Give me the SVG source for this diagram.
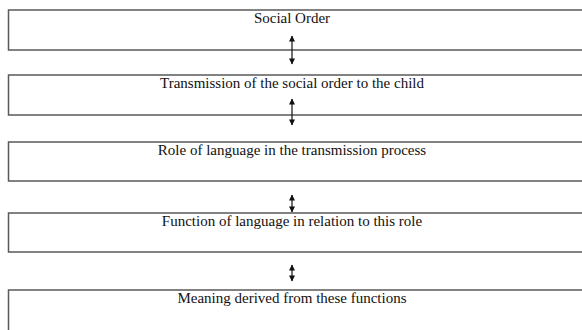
<svg xmlns="http://www.w3.org/2000/svg" width="582" height="330" viewBox="0 0 582 330">
<style>
.box{fill:#fff;stroke:#5a5a5a;stroke-width:1.5}
.lbl{font-family:"Liberation Serif","Times New Roman",serif;font-size:15px;fill:#111;text-anchor:middle}
.arr{stroke:#111;stroke-width:1.2;fill:none;marker-start:url(#ah);marker-end:url(#ah)}
</style>
<defs>
<marker id="ah" viewBox="0 0 10 10" refX="9" refY="5" markerWidth="7" markerHeight="6" orient="auto-start-reverse" markerUnits="userSpaceOnUse">
<path d="M0,0 L10,5 L0,10 z" fill="#111"/>
</marker>
</defs>
<rect width="582" height="330" fill="#fff"/>
<g id="n1"><rect class="box" x="8.5" y="10" width="590" height="40"/><text class="lbl" x="292" y="23">Social Order</text></g>
<g id="n2"><rect class="box" x="8.5" y="75" width="590" height="40"/><text class="lbl" x="292" y="88">Transmission of the social order to the child</text></g>
<g id="n3"><rect class="box" x="8.5" y="142" width="590" height="39"/><text class="lbl" x="292" y="155">Role of language in the transmission process</text></g>
<g id="n4"><rect class="box" x="8.5" y="213" width="590" height="39"/><text class="lbl" x="292" y="226">Function of language in relation to this role</text></g>
<g id="n5"><rect class="box" x="8.5" y="290" width="590" height="60"/><text class="lbl" x="292" y="303">Meaning derived from these functions</text></g>
<g id="connectors">
<line class="arr" x1="292" y1="36" x2="292" y2="64"/>
<line class="arr" x1="292" y1="99" x2="292" y2="125"/>
<line class="arr" x1="292" y1="195" x2="292" y2="212"/>
<line class="arr" x1="292" y1="265" x2="292" y2="281"/>
</g>
</svg>
